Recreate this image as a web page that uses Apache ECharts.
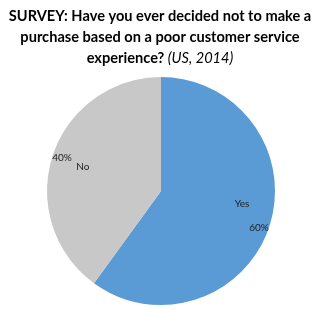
<!DOCTYPE html>
<html><head><meta charset="utf-8">
<script src="https://cdn.jsdelivr.net/npm/echarts@6/dist/echarts.min.js"></script>
<style>html,body{margin:0;padding:0;background:#fff}#c{width:320px;height:309px}</style>
</head><body><div id="c"></div>
<script>
const categories = ['Yes', 'No'];
const values = [60, 40];
const percentLabels = ['60%', '40%'];
const colors = ['#5b9bd5', '#c8c8c8'];
const nameOffsets = [[24, -6], [-21, -6]];
const pctOffsets = [[41, 18], [-42, -15]];

const chart = echarts.init(document.getElementById('c'));
const font = 'Lato, "Open Sans", sans-serif';
chart.setOption({
  animation: false,
  title: {
    left: 'center', top: 1,
    text: '{b|SURVEY: Have you ever decided not to make a}\n{b|purchase based on a poor customer service}\n{b|experience? }{i|(US, 2014)}',
    textStyle: {
      fontWeight: 'normal',
      rich: {
        b: { fontFamily: font, fontWeight: 'bold', fontSize: 14.6, color: '#000', lineHeight: 21 },
        i: { fontFamily: font, fontWeight: 'normal', fontStyle: 'italic', fontSize: 14.6, color: '#000', lineHeight: 21 }
      }
    }
  },
  series: [
    {
      type: 'pie', center: [161, 191], radius: [0, 114], startAngle: 90, clockwise: true,
      label: { position: 'inside', fontFamily: font, fontSize: 10, color: '#222', formatter: '{b}' },
      labelLine: { show: false },
      itemStyle: { borderWidth: 0 },
      emphasis: { disabled: true },
      data: categories.map((c, i) => ({ name: c, value: values[i], itemStyle: { color: colors[i] }, label: { offset: nameOffsets[i] } }))
    },
    {
      type: 'pie', center: [161, 191], radius: [0, 114], startAngle: 90, clockwise: true, silent: true,
      label: { position: 'inside', fontFamily: font, fontSize: 10, color: '#222' },
      labelLine: { show: false },
      itemStyle: { color: 'rgba(0,0,0,0)', borderWidth: 0 },
      emphasis: { disabled: true },
      data: categories.map((c, i) => ({ name: c, value: values[i], label: { formatter: percentLabels[i], offset: pctOffsets[i] } }))
    }
  ]
});
</script></body></html>
